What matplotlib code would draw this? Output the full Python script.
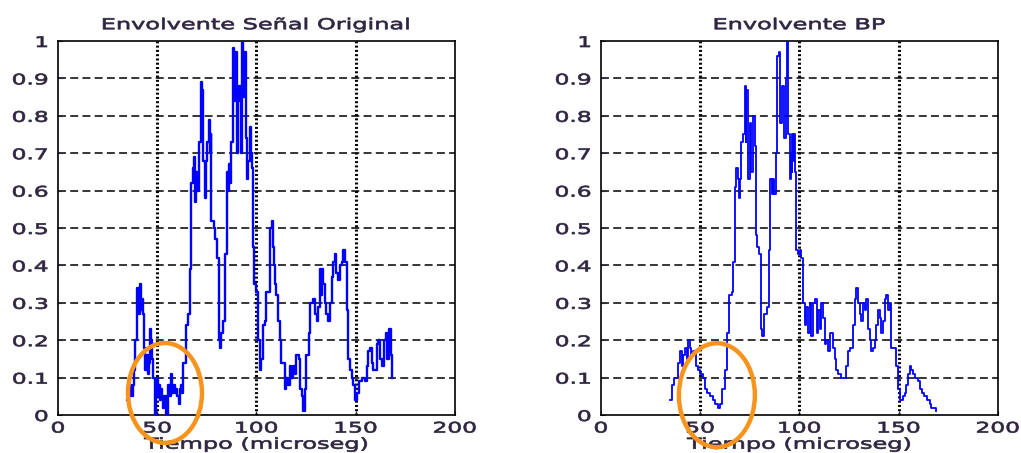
#%% import packages
import numpy as np
import matplotlib.pyplot as plt
from matplotlib.patches import Ellipse
from matplotlib.patheffects import AbstractPathEffect
from matplotlib.transforms import Affine2D

#%% envelope of the original signal: (time in microseconds, normalised amplitude)
env_orig = [(35, 0.04), (36, 0.08), (37, 0.05), (37.6, 0.08), (38.3, 0.12), (38.7, 0.20),
            (40, 0.34), (40.6, 0.27), (41.2, 0.35), (41.8, 0.28), (42.4, 0.31), (43, 0.27),
            (43.5, 0.18), (44, 0.12), (44.6, 0.16), (45.2, 0.11), (45.8, 0.14), (46.5, 0.23),
            (47, 0.20), (47.5, 0.15), (48, 0.10), (49, 0.00), (49.5, 0.06), (50, 0.10),
            (50.6, 0.05), (51, 0.08), (51.6, 0.04), (52, 0.07), (52.6, 0.05), (53, 0.02),
            (53.6, 0.05), (54.6, 0.00), (55.5, 0.08), (56.2, 0.05), (57, 0.11), (57.6, 0.06),
            (58.2, 0.08), (59, 0.06), (59.6, 0.07), (60.2, 0.05), (60.8, 0.03), (61.3, 0.07),
            (62, 0.08), (62.5, 0.06), (63, 0.14), (64.4, 0.24), (65.5, 0.27), (66.4, 0.39),
            (67.2, 0.62), (68, 0.66), (68.6, 0.69), (69.2, 0.57), (69.7, 0.65), (70.2, 0.60),
            (71, 0.73), (72, 0.89), (72.6, 0.87), (73, 0.68), (74, 0.58), (74.6, 0.68),
            (75, 0.73), (76, 0.79), (76.6, 0.70), (77, 0.75), (77.3, 0.52), (78.5, 0.50),
            (79, 0.47), (80, 0.42), (81, 0.20), (81.5, 0.18), (82.3, 0.22), (83.2, 0.25),
            (84, 0.43), (85, 0.65), (85.5, 0.60), (86, 0.67), (86.5, 0.62), (87, 0.73),
            (88.2, 0.98), (88.8, 0.84), (89.3, 0.97), (90, 0.70), (90.6, 0.84), (91.3, 0.88),
            (92, 0.70), (92.8, 1.00), (93.3, 0.85), (93.8, 0.97), (94.5, 0.74), (95, 0.63),
            (95.8, 0.68), (96.6, 0.77), (97.1, 0.70), (97.5, 0.66), (98.3, 0.45), (99, 0.35),
            (100, 0.33), (100.8, 0.20), (101.7, 0.12), (102.5, 0.15), (103.4, 0.24),
            (104.2, 0.25), (105, 0.33), (106.7, 0.50), (107.6, 0.52), (108.4, 0.45),
            (108.8, 0.40), (109.2, 0.35), (110, 0.32), (111, 0.25), (111.8, 0.20),
            (112.6, 0.14), (114.3, 0.07), (115, 0.10), (115.8, 0.08), (116.8, 0.13),
            (117.6, 0.10), (118.5, 0.13), (119.3, 0.11), (120, 0.16), (121.3, 0.15),
            (122, 0.07), (122.7, 0.05), (123.5, 0.01), (124.4, 0.07), (125.2, 0.16),
            (126.5, 0.22), (127, 0.30), (128.6, 0.31), (129.4, 0.27), (130.3, 0.25),
            (131, 0.29), (132, 0.39), (132.6, 0.32), (133, 0.39), (133.6, 0.35), (134.5, 0.30),
            (135, 0.27), (136, 0.25), (137, 0.30), (137.8, 0.37), (138.7, 0.41), (139.5, 0.43),
            (140.3, 0.38), (141.2, 0.36), (142, 0.40), (143, 0.41), (143.8, 0.44),
            (144.7, 0.41), (145.7, 0.28), (146.2, 0.15), (147.1, 0.12), (148, 0.10),
            (148.8, 0.08), (149.6, 0.04), (150.8, 0.06), (151.8, 0.09), (153, 0.10),
            (154.6, 0.09), (155.5, 0.13), (156.3, 0.17), (157, 0.18), (158, 0.14),
            (158.8, 0.12), (160.5, 0.19), (161.3, 0.20), (162.2, 0.15), (163, 0.13),
            (164.2, 0.20), (165.2, 0.22), (165.9, 0.15), (167, 0.23), (167.6, 0.16),
            (168.4, 0.10)]

#%% envelope after band-pass filtering
env_bp = [(34.7, 0.04), (36, 0.08), (37, 0.10), (38, 0.10), (39, 0.14), (40, 0.17),
          (40.6, 0.13), (41.4, 0.16), (42.3, 0.18), (43.1, 0.15), (44, 0.20), (44.8, 0.18),
          (45.6, 0.16), (46.5, 0.17), (47.3, 0.17), (48, 0.13), (49, 0.12), (49.8, 0.11),
          (50.7, 0.11), (51.5, 0.10), (52.3, 0.07), (53.2, 0.06), (55, 0.05), (56.2, 0.04),
          (57.4, 0.03), (59, 0.02), (60.2, 0.03), (61.2, 0.07), (62.4, 0.12), (63.6, 0.22),
          (64.6, 0.32), (65.8, 0.33), (66.6, 0.41), (67.4, 0.61), (68.2, 0.66), (69, 0.63),
          (69.5, 0.58), (70, 0.63), (70.8, 0.73), (71.6, 0.75), (72.4, 0.88), (72.9, 0.73),
          (73.3, 0.87), (74.1, 0.63), (75, 0.78), (75.8, 0.65), (76.6, 0.80), (77.5, 0.72),
          (78, 0.48), (78.8, 0.45), (79.7, 0.43), (80.4, 0.23), (81.2, 0.21), (82, 0.27),
          (83, 0.27), (83.7, 0.29), (84.6, 0.44), (85.4, 0.63), (86.2, 0.59), (86.7, 0.63),
          (87.2, 0.59), (88, 0.70), (88.8, 0.96), (89.6, 0.97), (90.4, 0.78), (91.3, 0.88),
          (92.1, 0.74), (93, 0.90), (93.5, 1.00), (94.3, 0.75), (95.1, 0.63), (95.5, 0.70),
          (96, 0.65), (96.4, 0.75), (96.8, 0.68), (97.2, 0.75), (97.6, 0.65), (98.5, 0.44),
          (99.3, 0.43), (100.2, 0.44), (101, 0.42), (101.8, 0.30), (102.7, 0.24),
          (103.5, 0.29), (104.4, 0.22), (105.2, 0.30), (106, 0.21), (106.8, 0.30),
          (107.7, 0.31), (108.6, 0.22), (109.4, 0.28), (110.2, 0.23), (111, 0.30),
          (111.9, 0.26), (112.8, 0.19), (113.6, 0.20), (114.4, 0.17), (115.3, 0.22),
          (116.1, 0.22), (117, 0.18), (117.8, 0.15), (118.6, 0.12), (119.5, 0.11),
          (121.1, 0.10), (122.8, 0.10), (123.7, 0.13), (124.5, 0.17), (125.3, 0.18),
          (126.2, 0.18), (127, 0.24), (127.9, 0.31), (128.7, 0.34), (129.5, 0.30),
          (130.4, 0.27), (131.2, 0.25), (132, 0.30), (132.9, 0.28), (133.7, 0.31),
          (134.6, 0.23), (135.4, 0.20), (136.2, 0.17), (137, 0.18), (137.9, 0.20),
          (138.7, 0.24), (139.6, 0.28), (140.4, 0.26), (141.2, 0.22), (142.1, 0.25),
          (142.9, 0.31), (143.8, 0.32), (144.6, 0.28), (145.5, 0.30), (146.3, 0.18),
          (147.5, 0.18), (148.5, 0.15), (148.8, 0.13), (149.7, 0.07), (150.5, 0.04),
          (151.3, 0.04), (152.2, 0.05), (153, 0.06), (153.9, 0.08), (154.7, 0.11),
          (155.6, 0.13), (156.4, 0.12), (157.2, 0.11), (158, 0.10), (158.9, 0.10),
          (159.7, 0.09), (160.6, 0.07), (161.9, 0.06), (163, 0.05), (164.2, 0.04),
          (165.6, 0.03), (166.4, 0.02), (167.6, 0.02), (168.6, 0.01)]

t_orig, v_orig = np.array(env_orig).T
t_bp, v_bp = np.array(env_bp).T

x_ticks_ = [0, 50, 100, 150, 200]
y_ticks_ = [0, 0.1, 0.2, 0.3, 0.4, 0.5, 0.6, 0.7, 0.8, 0.9, 1]
y_ticklabels_ = ['0', '0.1', '0.2', '0.3', '0.4', '0.5', '0.6', '0.7', '0.8', '0.9', '1']
titles_ = ['Envolvente Señal Original', 'Envolvente BP']
xlabel_ = 'Tiempo (microseg)'

# circled region on each panel: (centre x, centre y, width, height) in data units
circles_ = [(53.9, 0.059, 37.3, 0.267), (58.4, 0.053, 38.3, 0.278)]


#%% wide lettering: stretch the glyph outlines horizontally (and thicken them a bit)
class HStretch(AbstractPathEffect):
    def __init__(self, sx=1.6, anchor='center', stroke=0.5):
        super().__init__()
        self.sx = sx
        self.anchor = anchor
        self.stroke = stroke

    def draw_path(self, renderer, gc, tpath, affine, rgbFace=None):
        ext_ = tpath.get_extents(affine)
        if self.anchor == 'right':
            cx_ = ext_.x1
        else:
            cx_ = 0.5 * (ext_.x0 + ext_.x1)
        stretch_ = Affine2D().translate(-cx_, 0).scale(self.sx, 1).translate(cx_, 0)
        gc0 = renderer.new_gc()
        gc0.copy_properties(gc)
        gc0.set_linewidth(self.stroke)
        gc0.set_foreground(rgbFace)
        renderer.draw_path(gc0, tpath, affine + stretch_, rgbFace)
        gc0.restore()


#%% plot
text_color_ = '#2f2540'
sx_ = 1.6
plt.rcParams['font.family'] = 'DejaVu Sans'

fig = plt.figure(figsize=(10.21, 4.53), dpi=100)
ax1 = fig.add_axes([0.0568, 0.0839, 0.3888, 0.8256])
ax2 = fig.add_axes([0.5886, 0.0839, 0.3888, 0.8256])

for ax_, t_, v_, lw_, title_, circ_ in zip([ax1, ax2], [t_orig, t_bp], [v_orig, v_bp], [1.7, 1.3],
                                           titles_, circles_):
    ax_.plot(t_, v_, color='#0000ff', lw=lw_, drawstyle='steps-post', zorder=3)
    ax_.set_xlim([0, 200])
    ax_.set_ylim([0, 1])
    ax_.set_xticks(x_ticks_)
    ax_.set_yticks(y_ticks_)
    ax_.set_yticklabels(y_ticklabels_)
    # dotted vertical grid, dashed horizontal grid
    for x_ in x_ticks_[1:-1]:
        ax_.axvline(x=x_, color='black', ls=(0, (0.65, 0.75)), lw=2.2, zorder=1)
    for y_ in y_ticks_[1:-1]:
        ax_.axhline(y=y_, color='black', ls=(0, (5.2, 2.8)), lw=1.1, zorder=1)
    ax_.tick_params(direction='in', length=3, colors=text_color_, labelsize=10.5)
    ax_.tick_params(axis='x', pad=4)
    ax_.tick_params(axis='y', pad=7)
    for lab_ in ax_.get_xticklabels():
        lab_.set_path_effects([HStretch(sx_)])
    for lab_ in ax_.get_yticklabels():
        lab_.set_path_effects([HStretch(sx_, 'right')])
    for s_ in ax_.spines.values():
        s_.set_linewidth(1.2)
        s_.set_color('black')
    ax_.set_title(title_, fontsize=10.8, color=text_color_, pad=8.5,
                  path_effects=[HStretch(sx_)])
    ax_.set_xlabel(xlabel_, fontsize=10.8, color=text_color_, va='top',
                   path_effects=[HStretch(sx_)])
    ax_.xaxis.set_label_coords(0.5, -0.058)
    ax_.add_patch(Ellipse((circ_[0], circ_[1]), circ_[2], circ_[3], fill=False,
                          edgecolor='#f7941d', lw=3.2, clip_on=False, zorder=4))

plt.savefig('out.png', dpi=100)
